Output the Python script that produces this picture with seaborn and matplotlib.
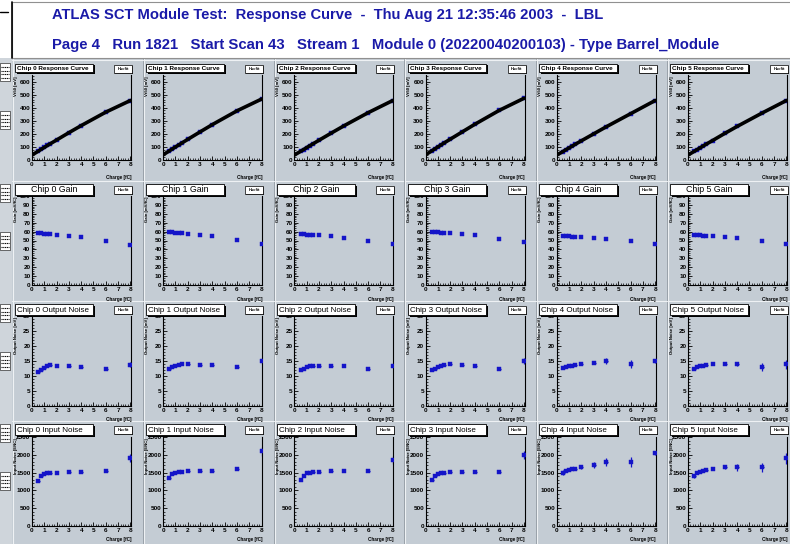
import matplotlib
matplotlib.use("Agg")
import matplotlib.pyplot as plt
import seaborn as sns
import pandas as pd
from matplotlib.patches import Rectangle
from matplotlib.lines import Line2D
from matplotlib.ticker import MultipleLocator

sns.set_theme(style="white")
plt.rcParams['font.family'] = ['Liberation Sans', 'DejaVu Sans']

# ---------------- data ----------------
CHIPS = [0, 1, 2, 3, 4, 5]
CHARGES = [0.5, 0.75, 1.0, 1.25, 1.5, 2.0, 3.0, 4.0, 6.0, 8.0]
RESP_CHARGES = [0.0, 0.5, 0.75, 1.0, 1.25, 1.5, 2.0, 3.0, 4.0, 6.0, 8.0]

RESP_0 = [38, 67, 82, 96, 111, 125, 153, 209, 263, 366, 455]
RESP_1 = [40, 70, 85, 100, 114, 129, 158, 215, 271, 376, 466]
RESP_2 = [38, 66, 80, 95, 109, 123, 151, 206, 260, 362, 455]
RESP_3 = [40, 70, 85, 100, 115, 130, 159, 216, 273, 380, 472]
RESP_4 = [38, 65, 79, 93, 106, 120, 147, 200, 253, 354, 455]
RESP_5 = [38, 66, 80, 94, 108, 122, 149, 204, 257, 358, 455]

GAIN_0 = [58, 58, 57.5, 57, 57, 56, 55, 54, 50, 45]
GAIN_1 = [59, 59, 58.5, 58, 58, 57.5, 56, 55, 51, 46]
GAIN_2 = [57, 57, 56.5, 56, 56, 56, 55, 53, 50, 46]
GAIN_3 = [59, 59, 59, 58.5, 58.5, 58, 57, 56, 52, 48]
GAIN_4 = [55, 55, 54.5, 54, 54, 53.5, 53, 52, 49, 46]
GAIN_5 = [56, 56, 56, 55.5, 55.5, 55, 54, 53, 50, 46]

ONOISE_0 = [11.5, 12.0, 12.8, 13.3, 13.7, 13.5, 13.5, 13.0, 12.2, 13.8]
ONOISE_1 = [12.5, 13.0, 13.5, 13.8, 14.0, 14.0, 13.8, 13.8, 13.0, 15.0]
ONOISE_2 = [12.0, 12.5, 13.0, 13.3, 13.5, 13.5, 13.5, 13.3, 12.3, 13.5]
ONOISE_3 = [12.0, 12.5, 13.0, 13.5, 13.8, 14.0, 13.8, 13.5, 12.5, 15.0]
ONOISE_4 = [12.8, 13.0, 13.2, 13.4, 13.6, 14.0, 14.5, 15.0, 14.0, 15.0]
ONOISE_5 = [12.5, 13.0, 13.3, 13.5, 13.8, 14.0, 14.0, 14.0, 13.0, 14.0]

ONOISE_ERR_0 = [0.2, 0.2, 0.2, 0.2, 0.2, 0.2, 0.2, 0.2, 0.3, 0.8]
ONOISE_ERR_1 = [0.2, 0.2, 0.2, 0.2, 0.2, 0.2, 0.2, 0.2, 0.3, 0.9]
ONOISE_ERR_2 = [0.2, 0.2, 0.2, 0.2, 0.2, 0.2, 0.2, 0.2, 0.3, 0.8]
ONOISE_ERR_3 = [0.2, 0.2, 0.2, 0.2, 0.2, 0.2, 0.2, 0.2, 0.3, 0.9]
ONOISE_ERR_4 = [0.5, 0.3, 0.3, 0.3, 0.3, 0.3, 0.6, 1.0, 1.4, 0.8]
ONOISE_ERR_5 = [0.3, 0.3, 0.3, 0.3, 0.3, 0.3, 0.4, 0.5, 1.2, 1.5]

INOISE_0 = [1270, 1400, 1450, 1480, 1500, 1500, 1520, 1510, 1550, 1900]
INOISE_1 = [1350, 1450, 1500, 1520, 1530, 1540, 1550, 1550, 1600, 2100]
INOISE_2 = [1300, 1400, 1480, 1500, 1520, 1530, 1550, 1540, 1550, 1850]
INOISE_3 = [1300, 1400, 1450, 1480, 1500, 1520, 1530, 1520, 1520, 2000]
INOISE_4 = [1500, 1550, 1580, 1600, 1610, 1650, 1720, 1800, 1800, 2050]
INOISE_5 = [1400, 1480, 1520, 1550, 1570, 1600, 1650, 1650, 1650, 1900]

INOISE_ERR_0 = [30, 25, 25, 25, 25, 25, 30, 30, 40, 110]
INOISE_ERR_1 = [30, 25, 25, 25, 25, 25, 30, 30, 40, 120]
INOISE_ERR_2 = [30, 25, 25, 25, 25, 25, 30, 30, 40, 110]
INOISE_ERR_3 = [30, 25, 25, 25, 25, 25, 30, 30, 40, 120]
INOISE_ERR_4 = [60, 30, 30, 30, 30, 40, 80, 120, 150, 50]
INOISE_ERR_5 = [50, 30, 30, 30, 30, 40, 60, 100, 120, 150]

RESPONSE = [RESP_0, RESP_1, RESP_2, RESP_3, RESP_4, RESP_5]
GAIN = [GAIN_0, GAIN_1, GAIN_2, GAIN_3, GAIN_4, GAIN_5]
ONOISE = [ONOISE_0, ONOISE_1, ONOISE_2, ONOISE_3, ONOISE_4, ONOISE_5]
ONOISE_ERR = [ONOISE_ERR_0, ONOISE_ERR_1, ONOISE_ERR_2, ONOISE_ERR_3, ONOISE_ERR_4, ONOISE_ERR_5]
INOISE = [INOISE_0, INOISE_1, INOISE_2, INOISE_3, INOISE_4, INOISE_5]
INOISE_ERR = [INOISE_ERR_0, INOISE_ERR_1, INOISE_ERR_2, INOISE_ERR_3, INOISE_ERR_4, INOISE_ERR_5]

ROW_TITLES = ["Response Curve", "Gain", "Output Noise", "Input Noise"]
ROW_YLABELS = ["Vt50 [mV]", "Gain [mV/fC]", "Output Noise [mV]", "Input Noise [ENC]"]
ROW_YLIM = [(0, 650), (0, 100), (0, 30), (0, 2500)]
ROW_YMAJOR = [100, 10, 5, 500]
ROW_YMINOR = [20, 2, 1, 100]
X_TICKS = [0, 1, 2, 3, 4, 5, 6, 7, 8]

TITLE1 = "ATLAS SCT Module Test:  Response Curve  -  Thu Aug 21 12:35:46 2003  -  LBL"
TITLE2 = "Page 4   Run 1821   Start Scan 43   Stream 1   Module 0 (20220040200103) - Type Barrel_Module"

# ---------------- layout / style ----------------
W, H = 790, 544
PAD_C = '#c4ccd4'
BLUE = '#1414c8'
HDR_C = '#1a1aa8'

fig = plt.figure(figsize=(W / 100, H / 100), dpi=100)
fig.patch.set_facecolor('white')


def fx(x):
    return x / W


def fy(y):
    return 1 - y / H


def frect(x0, y0, x1, y1, **kw):
    r = Rectangle((fx(x0), fy(y1)), fx(x1) - fx(x0), fy(y0) - fy(y1),
                  transform=fig.transFigure, **kw)
    fig.add_artist(r)
    return r


def fline(xs, ys, **kw):
    fig.add_artist(Line2D([fx(v) for v in xs], [fy(v) for v in ys],
                          transform=fig.transFigure, **kw))


# header
frect(12, 2, 792, 58, facecolor='white', edgecolor='#909090', lw=0.8)
fline([12, 12], [2, 58], color='black', lw=1.2)
fline([0, 8], [12, 12], color='black', lw=1.0)
fig.text(fx(52), fy(15), TITLE1, color=HDR_C, fontsize=10.6, fontweight='bold',
         va='center', ha='left')
fig.text(fx(52), fy(45), TITLE2, color=HDR_C, fontsize=10.7, fontweight='bold',
         va='center', ha='left')

# left strip (remnants of a neighbouring page)
frect(0, 58, 12, 544, facecolor='#cfd5db', edgecolor='none')
for top in [59, 180, 300, 420]:
    for off in [4, 52]:
        frect(0, top + off, 10, top + off + 18, facecolor='white', edgecolor='#303030', lw=0.5)
        for k in range(4):
            fline([1, 9], [top + off + 4 + k * 3.5] * 2, color='black', lw=0.8, ls=(0, (1, 0.6)))

PAD_TOPS = [59, 180, 300, 420, 544]
ROW_FRAMES = [(75, 160), (196, 285), (316, 406), (437, 526)]

for r in range(4):
    for c, chip in enumerate(CHIPS):
        px0 = 12 + 131 * c
        px1 = px0 + 131
        py0 = PAD_TOPS[r]
        py1 = PAD_TOPS[r + 1]
        frect(px0, py0, px1, py1, facecolor=PAD_C, edgecolor='none', zorder=0)
        fline([px0 + 0.5, px0 + 0.5], [py0, py1], color='#eef1f4', lw=0.8, zorder=0.5)
        fline([px0, px1], [py0 + 0.5, py0 + 0.5], color='#eef1f4', lw=0.8, zorder=0.5)
        fline([px1 - 0.5, px1 - 0.5], [py0, py1], color='#8e969e', lw=0.6, zorder=0.5)

        ax0 = 32 + 131.2 * c
        ax1 = ax0 + 99
        ay0, ay1 = ROW_FRAMES[r]
        ax = fig.add_axes([fx(ax0), fy(ay1), fx(ax1) - fx(ax0), fy(ay0) - fy(ay1)])
        ax.set_facecolor(PAD_C)

        if r == 0:
            sns.scatterplot(x=CHARGES, y=RESPONSE[c][1:], ax=ax, marker='s', s=8,
                            color=BLUE, edgecolor=BLUE, linewidth=0.3, zorder=2)
            sns.lineplot(x=RESP_CHARGES, y=RESPONSE[c], ax=ax, color='black', lw=2.6,
                         zorder=3)
        elif r == 1:
            sns.scatterplot(x=CHARGES, y=GAIN[c], ax=ax, marker='s', s=7,
                            color=BLUE, edgecolor=BLUE, linewidth=0.3, zorder=4)
        else:
            vals = ONOISE[c] if r == 2 else INOISE[c]
            errs = ONOISE_ERR[c] if r == 2 else INOISE_ERR[c]
            df = pd.DataFrame({'q': CHARGES, 'v': vals, 'e': errs})
            ax.errorbar(df['q'], df['v'], yerr=df['e'], xerr=0.15, fmt='none',
                        ecolor=BLUE, elinewidth=0.9, capsize=0, zorder=3)
            sns.scatterplot(data=df, x='q', y='v', ax=ax, marker='s', s=7,
                            color=BLUE, edgecolor=BLUE, linewidth=0.3, zorder=4)

        ax.set_xlim(0, 8.05)
        ax.set_ylim(*ROW_YLIM[r])
        ax.set_xticks(X_TICKS)
        ax.xaxis.set_minor_locator(MultipleLocator(0.2))
        ax.yaxis.set_major_locator(MultipleLocator(ROW_YMAJOR[r]))
        ax.yaxis.set_minor_locator(MultipleLocator(ROW_YMINOR[r]))
        ax.set_xlabel('')
        ax.set_ylabel('')
        ax.tick_params(axis='both', which='major', direction='in', length=3, width=0.6,
                       labelsize=4.6, pad=1.2, color='black', labelcolor='black')
        ax.tick_params(axis='both', which='minor', direction='in', length=1.6, width=0.5,
                       color='black')
        ax.tick_params(axis='y', which='both', left=True)
        ax.tick_params(axis='x', which='both', bottom=True)
        for lbl in ax.get_xticklabels() + ax.get_yticklabels():
            lbl.set_fontweight('bold')
        for side in ['left', 'bottom', 'right']:
            ax.spines[side].set_visible(True)
            ax.spines[side].set_color('black')
            ax.spines[side].set_linewidth(0.8)
        ax.spines['top'].set_visible(False)

        # axis titles
        fig.text(fx(ax1), fy(ay1 + (17 if r == 0 else 14)), 'Charge [fC]', ha='right',
                 va='center', fontsize=3.3, fontweight='bold', color='black', zorder=8)
        fig.text(fx(ax0 - 16.5), fy(ay0 + 1), ROW_YLABELS[r], rotation=90, ha='center',
                 va='top', fontsize=3.1, fontweight='bold', color='black', zorder=8)

        # title box with shadow
        tb_x0, tb_x1 = px0 + 3, px0 + 81
        tb_y0 = py0 + (5 if r == 0 else 4)
        tb_y1 = py0 + (13 if r == 0 else 15)
        frect(tb_x0 + 1.5, tb_y0 + 1.5, tb_x1 + 1.5, tb_y1 + 1.5, facecolor='black',
              edgecolor='none', zorder=5)
        frect(tb_x0, tb_y0, tb_x1, tb_y1, facecolor='white', edgecolor='black', lw=0.6,
              zorder=6)
        title = f"Chip {chip} {ROW_TITLES[r]}"
        if r == 1:
            fig.text(fx((tb_x0 + tb_x1) / 2), fy((tb_y0 + tb_y1) / 2 + 0.5), title,
                     ha='center', va='center', fontsize=6.3, color='black', zorder=7)
        else:
            fig.text(fx(tb_x0 + 2), fy((tb_y0 + tb_y1) / 2 + 0.5), title, ha='left',
                     va='center', fontsize=(4.6 if r == 0 else 5.8), color='black',
                     fontweight='bold' if r == 0 else 'normal', zorder=7)

        # small stat box (top right)
        sb_x0, sb_x1 = ax1 - 17, ax1 + 1
        sb_y0, sb_y1 = py0 + 6, py0 + 14
        frect(sb_x0 + 1, sb_y0 + 1, sb_x1 + 1, sb_y1 + 1, facecolor='black',
              edgecolor='none', zorder=5)
        frect(sb_x0, sb_y0, sb_x1, sb_y1, facecolor='white', edgecolor='black', lw=0.5,
              zorder=6)
        fig.text(fx((sb_x0 + sb_x1) / 2), fy((sb_y0 + sb_y1) / 2 + 0.3), 'Hscfit',
                 ha='center', va='center', fontsize=3.0, fontweight='bold',
                 color='black', zorder=7)

fig.savefig('out.png', dpi=100, facecolor=fig.get_facecolor())
